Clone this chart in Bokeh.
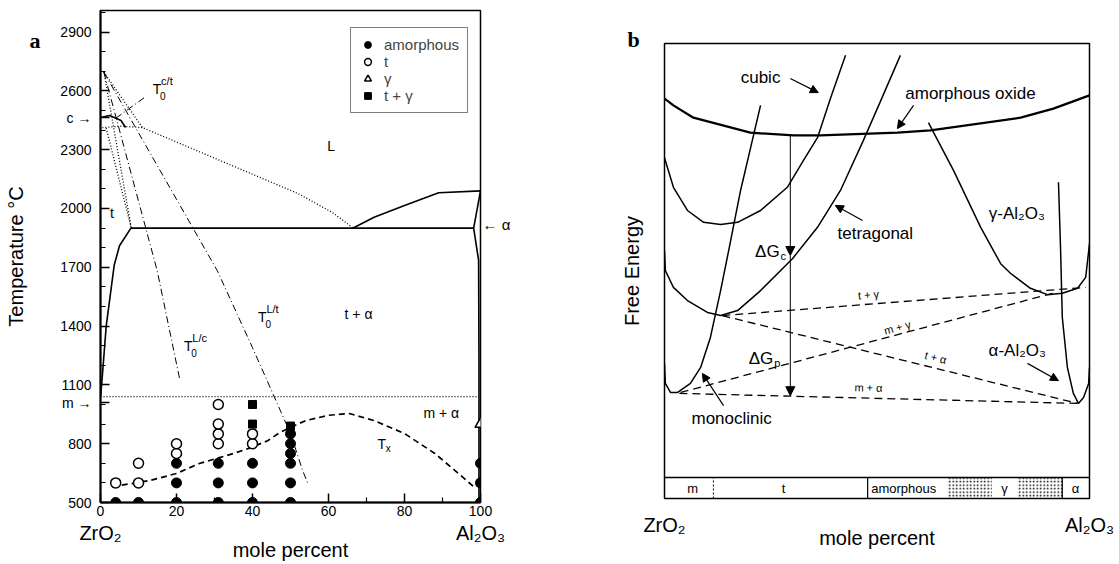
from bokeh.plotting import figure
from bokeh.layouts import row
from bokeh.models import (Range1d, Label, Arrow, NormalHead, Legend, LegendItem, FixedTicker,
                          LinearAxis, Title)
from bokeh.core.properties import value
from bokeh.embed import file_html
from bokeh.resources import INLINE

SANS = "Liberation Sans"
SERIF = "Liberation Serif"

# ======================= Panel a : data =======================
a_x_ticks = [0, 20, 40, 60, 80, 100]
a_x_minor = [10, 30, 50, 70, 90]
a_y_ticks = [500, 800, 1100, 1400, 1700, 2000, 2300, 2600, 2900]
a_y_minor = [600, 700, 900, 1000, 1200, 1300, 1500, 1600, 1800, 1900,
             2100, 2200, 2400, 2500, 2700, 2800, 3000]
# marks on the temperature axis: cubic (c) and monoclinic (m) transitions, alpha on the right
c_T = 2464
m_T = 1010
alpha_T_mark = 1920
end_members = {0: "ZrO\u2082", 100: "Al\u2082O\u2083"}

# solid phase boundaries
eut_x = [8, 98.2]
eut_T = [1900, 1900]
tss_x = [8, 5, 3.6, 1.5, 0.3, 0]
tss_T = [1900, 1810, 1710, 1400, 1100, 1040]
liqR_x = [66.5, 72, 80, 89, 100]
liqR_T = [1900, 1955, 2015, 2080, 2090]
alph_x = [100, 98.2, 99.5, 99.6, 99.6]
alph_T = [2090, 1900, 1735, 1200, 500]
ct_x = [0, 2.4, 5.4, 6.6]
ct_T = [2464, 2474, 2449, 2413]

# dotted (metastable) lines
liqL_x = [0.9, 11, 52, 61, 66.5]
liqL_T = [2695, 2413, 2076, 1980, 1900]
tliq_x = [0.9, 8.1]
tliq_T = [2695, 1900]
tliq2_x = [1.5, 8.1]
tliq2_T = [2410, 1900]
ctdot_x = [0.5, 5, 11]
ctdot_T = [2412, 2420, 2413]
mline_x = [0, 99.5]
mline_T = [1040, 1040]

# T0 lines (dash-dot)
T0Lc_x = [0.9, 14.9, 20.8]
T0Lc_T = [2695, 1684, 1133]
T0Lt_x = [0.9, 30.7, 40, 50, 53.2, 54.5]
T0Lt_T = [2695, 1684, 1290, 852, 663, 600]
T0ct_x = [4, 11.5]
T0ct_T = [2460, 2565]

# crystallisation temperature Tx (dashed)
Tx_x = [3, 13, 20, 26, 35, 39, 44, 47, 50, 54, 60, 65.5, 72, 80, 88, 95.4, 98.4, 100]
Tx_T = [580, 612, 648, 699, 750, 776, 815, 855, 883, 918, 945, 954, 918, 852, 750, 628, 577, 600]

# experimental points
amor_x = [4, 10, 20, 20, 20, 31, 31, 31, 40, 40, 40, 50, 50, 50, 50, 50, 50, 100, 100, 100]
amor_T = [500, 500, 500, 600, 700, 500, 600, 700, 500, 600, 700, 500, 600, 700, 750, 800, 850, 500, 600, 700]
tet_pts_x = [4, 10, 10, 20, 20, 31, 31, 31, 31, 40, 40]
tet_pts_T = [600, 600, 700, 750, 800, 800, 850, 900, 1000, 800, 850]
gam_pts_x = [100]
gam_pts_T = [900]
tg_pts_x = [40, 40, 50]
tg_pts_T = [900, 1000, 890]

legend_labels = ["amorphous", "t", "\u03b3", "t + \u03b3"]

# ======================= Panel b : data =======================
amor_cx = [0, 2.1, 6.8, 20.2, 30.4, 36.7, 54.8, 62.6, 83.8, 91.5, 100]
amor_cy = [87.9, 86.4, 83.7, 80.4, 79.8, 79.8, 80.4, 80.9, 83.7, 85.7, 88.6]
cub_x = [0, 2.1, 5.4, 9.2, 13.2, 17.2, 22.6, 28.9, 32.7, 36, 39.1, 42.6]
cub_y = [74.9, 68.4, 63.3, 60.7, 60.2, 60.7, 63.3, 68.4, 74.3, 79.3, 88.1, 97.4]
tetc_x = [0, 0.2, 2.1, 5.4, 10.1, 13.2, 17.2, 22.6, 30.1, 36, 41.4, 46.8, 50.4, 55.5]
tetc_y = [54.5, 50.1, 46.4, 43.5, 40.9, 40.2, 41.3, 45.7, 52.7, 59.6, 67.7, 78.7, 86.4, 97.4]
mono_x = [0, 0.2, 1.4, 3.1, 6.1, 8.5, 10.8, 13.2, 15.1, 17.9, 22.6]
mono_y = [29.7, 25.3, 23.3, 23.3, 25.3, 28.8, 35.4, 45.7, 54.5, 67.7, 86.4]
gamc_x = [62.1, 68, 74.4, 79.1, 81.4, 86.1, 90.1, 93.6, 97.2, 99.1, 100]
gamc_y = [82.6, 72.1, 59.6, 51.6, 49.5, 46.2, 44.8, 45.1, 46.2, 48.6, 56.0]
alpc_x = [92.7, 93.2, 93.6, 94.8, 96.2, 97.4, 98.6, 99.8, 100]
alpc_y = [69.5, 54.5, 39.8, 28.8, 23.1, 20.9, 22.2, 25.3, 28.8]

# common tangents: [x0, x1], [y0, y1]
tang_names = ["t + \u03b3", "m + \u03b3", "t + \u03b1", "m + \u03b1"]
tang_x = [[13.6, 99.1], [3.8, 91.3], [13.6, 97.2], [3.5, 97.2]]
tang_y = [[40.2, 46.4], [23.3, 45.1], [40.2, 20.9], [23.1, 20.9]]
tang_lab_x = [48, 54.8, 63.8, 48]
tang_lab_y = [44.8, 37.6, 31.0, 24.4]
tang_lab_ang = [4.4, 14.9, -13.9, -1.3]

# driving forces (vertical arrow)
dG_x = 29.6
dG_y = [79.8, 53.4, 22.6]

# phase bar along the bottom
bar_top = 4.6
bar_edges = [0, 11.5, 47.8, 66.6, 93.6, 100]
bar_labels = ["m", "t", "amorphous", "\u03b3", "\u03b1"]
bar_label_x = [6.6, 28, 56.3, 80, 96.7]
stip_left = [66.6, 83.1]
stip_right = [77.0, 93.6]


def lab(p, x, y, text, size=14, align="center", baseline="middle", angle=0,
        font=SANS, style="normal", xo=0, yo=0):
    p.add_layout(Label(x=x, y=y, text=text, text_font=font,
                       text_font_size=f"{size}px", text_align=align,
                       text_baseline=baseline, angle=angle, angle_units="deg",
                       text_font_style=style, x_offset=xo, y_offset=yo,
                       text_color="black"))


def arr(p, x0, y0, x1, y1, size=8, lw=1.2):
    p.add_layout(Arrow(end=NormalHead(size=size, fill_color="black", line_color="black"),
                       x_start=x0, y_start=y0, x_end=x1, y_end=y1,
                       line_width=lw, line_color="black"))


def bare_axis(ax):
    ax.axis_line_color = None
    ax.major_tick_line_color = None
    ax.minor_tick_line_color = None
    ax.major_tick_in = 0
    ax.major_tick_out = 0
    ax.minor_tick_in = 0
    ax.minor_tick_out = 0
    ax.major_label_text_color = "black"
    ax.axis_label_text_color = "black"
    ax.axis_label_text_font = SANS
    ax.axis_label_text_font_style = "normal"
    ax.axis_label_text_font_size = "20px"


# ======================= Panel a : figure =======================
pa = figure(width=538, height=564, x_range=Range1d(0, 100), y_range=Range1d(500, 3010),
            output_backend="svg", toolbar_location=None, title=None, frame_align=False,
            min_border_left=100, min_border_right=58, min_border_top=10, min_border_bottom=62)
pa.xgrid.visible = False
pa.ygrid.visible = False
pa.outline_line_color = "black"
pa.outline_line_width = 1.5
pa.outline_line_alpha = 1
pa.xaxis.ticker = FixedTicker(ticks=a_x_ticks, minor_ticks=a_x_minor)
pa.yaxis.ticker = FixedTicker(ticks=a_y_ticks + [c_T, m_T], minor_ticks=a_y_minor)
pa.yaxis.major_label_overrides = {c_T: "c \u2192", m_T: "m \u2192"}
for ax in (pa.xaxis[0], pa.yaxis[0]):
    ax.major_tick_in = 9
    ax.major_tick_out = 0
    ax.minor_tick_in = 5
    ax.minor_tick_out = 0
    ax.major_tick_line_width = 1.5
    ax.minor_tick_line_width = 1.2
    ax.axis_line_width = 2
    ax.major_label_text_font = SANS
    ax.major_label_text_font_size = "14px"
    ax.major_label_text_color = "black"
    ax.axis_line_color = "black"
    ax.major_tick_line_color = "black"
    ax.minor_tick_line_color = "black"
pa.xaxis.major_label_standoff = 3
pa.yaxis.major_label_standoff = 9

# outer left axis: panel letter and axis title
ya2 = LinearAxis(ticker=FixedTicker(ticks=[2857]), major_label_overrides={2857: "a"},
                 axis_label="Temperature \u00b0C")
bare_axis(ya2)
ya2.major_label_text_font = SERIF
ya2.major_label_text_font_style = "bold"
ya2.major_label_text_font_size = "22px"
ya2.major_label_standoff = 17
ya2.axis_label_standoff = 0
pa.add_layout(ya2, "left")

# outer bottom axis: end members and axis title
xa2 = LinearAxis(ticker=FixedTicker(ticks=[0, 100]), major_label_overrides=end_members,
                 axis_label="mole percent")
bare_axis(xa2)
xa2.major_label_text_font = SANS
xa2.major_label_text_font_size = "20px"
xa2.major_label_standoff = 3
xa2.axis_label_standoff = -8
pa.add_layout(xa2, "below")

# right axis: alpha mark
ra = LinearAxis(ticker=FixedTicker(ticks=[alpha_T_mark]),
                major_label_overrides={alpha_T_mark: "\u2190 \u03b1"})
bare_axis(ra)
ra.major_label_text_font = SANS
ra.major_label_text_font_size = "15px"
ra.major_label_standoff = 2
pa.add_layout(ra, "right")

solid = dict(line_color="black", line_width=1.6)
dotted = dict(line_color="black", line_width=1.3, line_dash="1 2")
dashdot = dict(line_color="black", line_width=1.0, line_dash="7 3 1 3")

pa.line(eut_x, eut_T, **solid)
pa.line(tss_x, tss_T, **solid)
pa.line(liqR_x, liqR_T, **solid)
pa.line(alph_x, alph_T, **solid)
pa.line(ct_x, ct_T, **solid)
pa.line(liqL_x, liqL_T, **dotted)
pa.line(tliq_x, tliq_T, **dotted)
pa.line(tliq2_x, tliq2_T, **dotted)
pa.line(ctdot_x, ctdot_T, **dotted)
pa.line(mline_x, mline_T, **dotted)
pa.line(T0Lc_x, T0Lc_T, **dashdot)
pa.line(T0Lt_x, T0Lt_T, **dashdot)
pa.line(T0ct_x, T0ct_T, **dashdot)
pa.line(Tx_x, Tx_T, line_color="black", line_width=1.7, line_dash="6 4")

r_am = pa.scatter(amor_x, amor_T, marker="circle", size=10, fill_color="black", line_color="black")
r_t = pa.scatter(tet_pts_x, tet_pts_T, marker="circle", size=10, fill_color="white",
                 line_color="black", line_width=1.5)
r_g = pa.scatter(gam_pts_x, gam_pts_T, marker="triangle", size=11, fill_color="white",
                 line_color="black", line_width=1.5)
r_tg = pa.scatter(tg_pts_x, tg_pts_T, marker="square", size=8, fill_color="black", line_color="black")

leg = Legend(items=[LegendItem(label=legend_labels[0], renderers=[r_am]),
                    LegendItem(label=legend_labels[1], renderers=[r_t]),
                    LegendItem(label=legend_labels[2], renderers=[r_g]),
                    LegendItem(label=legend_labels[3], renderers=[r_tg])],
             location=(250, 389), border_line_color="black", border_line_width=1.2,
             background_fill_color="white", background_fill_alpha=1,
             label_text_font=SANS, label_text_font_size="15px",
             glyph_width=17, glyph_height=17, label_height=15, spacing=0,
             padding=8, margin=0, label_standoff=8)
pa.add_layout(leg)

# labels inside panel a
lab(pa, 60.7, 2321, "L")
lab(pa, 3.0, 1975, "t")
lab(pa, 67.9, 1464, "t + \u03b1")
lab(pa, 89.7, 959, "m + \u03b1")
lab(pa, 74.0, 800, "T")
lab(pa, 74.0, 800, "x", size=10, align="left", xo=4, yo=-5)
for tx, tT, sup in [(14.9, 2612, "c/t"), (23.1, 1300, "L/c"), (42.6, 1444, "L/t")]:
    lab(pa, tx, tT, "T", size=14)
    lab(pa, tx, tT, "0", size=10, align="left", xo=3, yo=-7)
    lab(pa, tx, tT, sup, size=11, align="left", xo=4, yo=8)

# ======================= Panel b : figure =======================
pb = figure(width=581, height=564, x_range=Range1d(0, 100), y_range=Range1d(0, 100),
            output_backend="svg", toolbar_location=None, title=None, frame_align=False,
            min_border_left=126, min_border_right=30, min_border_top=43, min_border_bottom=66)
pb.xgrid.visible = False
pb.ygrid.visible = False
pb.outline_line_color = "black"
pb.outline_line_width = 1.5
pb.outline_line_alpha = 1

pb.yaxis.ticker = FixedTicker(ticks=[])
pb.yaxis.axis_label = "Free Energy"
bare_axis(pb.yaxis[0])
pb.yaxis.major_label_standoff = 0
pb.yaxis.axis_label_standoff = 22

pb.xaxis.ticker = FixedTicker(ticks=[0, 100])
pb.xaxis.major_label_overrides = end_members
pb.xaxis.axis_label = "mole percent"
bare_axis(pb.xaxis[0])
pb.xaxis.major_label_text_font = SANS
pb.xaxis.major_label_text_font_size = "20px"
pb.xaxis.major_label_standoff = 15
pb.xaxis.axis_label_standoff = -12

pb.add_layout(Title(text="b", align="left", offset=-37, text_font=SERIF,
                    text_font_style="bold", text_font_size="22px", standoff=-16,
                    text_color="black"), "above")

curve = dict(line_color="black", line_width=1.5)
pb.line(amor_cx, amor_cy, line_color="black", line_width=2.3)
pb.line(cub_x, cub_y, **curve)
pb.line(tetc_x, tetc_y, **curve)
pb.line(mono_x, mono_y, **curve)
pb.line(gamc_x, gamc_y, **curve)
pb.line(alpc_x, alpc_y, **curve)
pb.multi_line(tang_x, tang_y, line_color="black", line_width=1.3, line_dash="8 5")
pb.text(tang_lab_x, tang_lab_y, text=tang_names, angle=tang_lab_ang, angle_units="deg",
        text_font=value(SANS), text_font_size="11px", text_align="center",
        text_baseline="middle", text_color="black")

# driving-force arrows
arr(pb, dG_x, dG_y[0], dG_x, dG_y[1], size=9, lw=1.0)
arr(pb, dG_x, dG_y[1], dG_x, dG_y[2], size=9, lw=1.0)
lab(pb, 27.1, 54.3, "\u0394G", size=17, align="right")
lab(pb, 27.3, 54.3, "c", size=11, align="left", yo=-5)
lab(pb, 25.6, 30.8, "\u0394G", size=17, align="right")
lab(pb, 25.8, 30.8, "p", size=11, align="left", yo=-5)

# curve labels with arrows
lab(pb, 22.6, 92.5, "cubic", size=17)
arr(pb, 29.6, 92.3, 36.2, 89.2)
lab(pb, 72.0, 89.0, "amorphous oxide", size=17)
arr(pb, 58.6, 86.4, 54.8, 81.3)
lab(pb, 49.6, 58.2, "tetragonal", size=17)
arr(pb, 46.6, 61.1, 40.2, 64.4)
lab(pb, 82.9, 62.6, "\u03b3-Al\u2082O\u2083", size=17)
lab(pb, 83.0, 32.5, "\u03b1-Al\u2082O\u2083", size=17)
arr(pb, 85.4, 29.7, 92.7, 25.9)
lab(pb, 15.8, 17.6, "monoclinic", size=17)
arr(pb, 13.9, 20.4, 8.9, 27.5)

# phase bar
pb.quad(left=stip_left, right=stip_right, bottom=0, top=bar_top, fill_color=None,
        line_color=None, hatch_pattern="dot", hatch_color="black", hatch_scale=3.5,
        hatch_weight=1.2)
pb.line([bar_edges[0], bar_edges[-1]], [bar_top, bar_top], line_color="black", line_width=1.5)
pb.line([bar_edges[1], bar_edges[1]], [0, bar_top], line_color="black", line_width=1.0, line_dash="2 2")
pb.line([bar_edges[2], bar_edges[2]], [0, bar_top], line_color="black", line_width=1.2)
pb.line([bar_edges[4], bar_edges[4]], [0, bar_top], line_color="black", line_width=1.2)
pb.text(bar_label_x, [2.3] * len(bar_label_x), text=bar_labels, text_font=value(SANS),
        text_font_size="13px", text_align="center", text_baseline="middle", text_color="black")

layout = row(pa, pb)
open("out.html", "w").write(file_html(layout, INLINE))
